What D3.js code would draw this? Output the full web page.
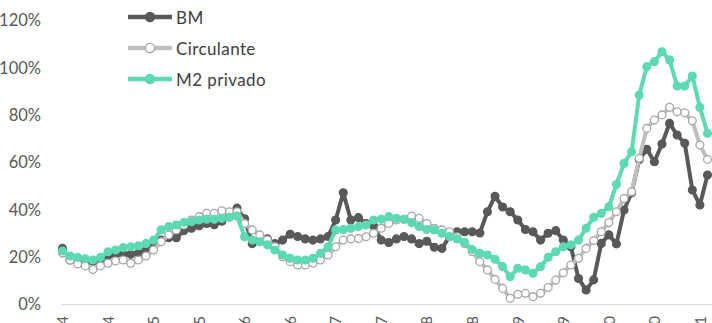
<!DOCTYPE html>
<html>
<head>
<meta charset="utf-8">
<script src="https://cdn.jsdelivr.net/npm/d3@7"></script>
<style>
html,body{margin:0;padding:0;background:#fff;overflow:hidden;}
svg{display:block;}
text{font-family:Lato,"Open Sans",sans-serif;}
</style>
</head>
<body>
<div id="chart"></div>
<script>
const categories = [
 "ene-04","feb-04","mar-04","abr-04","may-04","jun-04","jul-04","ago-04","sep-04","oct-04","nov-04","dic-04",
 "ene-05","feb-05","mar-05","abr-05","may-05","jun-05","jul-05","ago-05","sep-05","oct-05","nov-05","dic-05",
 "ene-06","feb-06","mar-06","abr-06","may-06","jun-06","jul-06","ago-06","sep-06","oct-06","nov-06","dic-06",
 "ene-07","feb-07","mar-07","abr-07","may-07","jun-07","jul-07","ago-07","sep-07","oct-07","nov-07","dic-07",
 "ene-08","feb-08","mar-08","abr-08","may-08","jun-08","jul-08","ago-08","sep-08","oct-08","nov-08","dic-08",
 "ene-09","feb-09","mar-09","abr-09","may-09","jun-09","jul-09","ago-09","sep-09","oct-09","nov-09","dic-09",
 "ene-10","feb-10","mar-10","abr-10","may-10","jun-10","jul-10","ago-10","sep-10","oct-10","nov-10","dic-10",
 "ene-11","feb-11"
];
const tickLabels = ["ene-04","jul-04","ene-05","jul-05","ene-06","jul-06","ene-07","jul-07","ene-08","jul-08","ene-09","jul-09","ene-10","jul-10","ene-11"];
const yTicks = [0, 20, 40, 60, 80, 100, 120];
const seriesNames = ["BM", "Circulante", "M2 privado"];

const bm = [23.5,18.6,18,17.8,18,19,20.5,21,21,21,21.5,22.5,24,27,28,28,31,32,33,34,33.5,35,37,40.5,
 36,25.5,26.5,27.5,25.5,27,29.5,28.5,27.5,27,27.5,28.5,35.5,47,35.5,36.5,34,33,27,26,27.5,28.5,27.5,25.5,
 26.5,24,23.5,28.5,30.5,30.5,30.5,30,39,45.5,41,39,35.5,31.5,30.5,27,29.9,31,27,24.2,10.8,5.9,10.2,25.6,
 29.2,25.4,39.7,47,61,65.4,60.1,67.6,76.3,71.4,67.9,48.2,41.8,54.5];
const circulante = [21.5,18.6,16.9,16.1,14.6,16.1,17.2,18.2,18.6,17.2,18.6,20.3,22.8,26.3,29.2,31.3,33.4,35.5,36.9,38.3,38.3,39.4,39,39,
 34,31.3,29.2,27,24.2,20,17.9,16.5,16.5,17.2,18.6,20.7,24.2,27,27.5,27.7,28.4,29.9,32,34,35.5,35.8,37.2,36.2,
 34,32,31.3,30.5,28.4,25.6,22.1,17.9,14.4,10.4,6.6,2.4,4.1,4.5,3.1,4.5,7,10.1,13.2,16.5,19.3,23.5,26.8,30.5,
 34.4,39,44.6,47.4,61.6,74.2,77.7,79.9,83.1,81.2,80.8,77.4,67.2,61.1];
const m2privado = [22.4,20.3,19.7,19.1,18.6,19.7,22.1,22.8,23.8,24.2,24.6,25.6,27,31.3,32.7,33.4,34.5,34.8,35.5,35.8,35.8,36.2,36.6,37.2,
 28.4,27,26.3,25,22.8,20.7,19.3,18.6,18.6,19.3,21.4,24.2,31.3,31.5,32,32.7,33.4,35.5,35.8,36.9,36.2,35.8,34.4,32.7,
 31.5,31.3,29.9,28.5,27.5,26,23,21.4,20.7,18.9,15.8,11.5,15.1,14.4,13,15.8,19.7,22.1,24.2,25,27,32,36.6,38.3,
 41.1,50.5,59.4,64.3,88.3,100.3,102.4,106.6,103.1,92.1,92.1,96.3,83.1,72.1];

const W = 712, H = 323;
const svg = d3.select("#chart").append("svg").attr("width", W).attr("height", H);

const x = d3.scalePoint().domain(categories).range([62.5, 707.5]);
const y = d3.scaleLinear().domain([0, 120]).range([304, 20]);

// Y axis labels
const yAxis = d3.axisLeft(y).tickValues(yTicks).tickFormat(d => d + "%").tickSize(0).tickPadding(0);
const gy = svg.append("g").attr("transform", "translate(41,0)").call(yAxis);
gy.select(".domain").remove();
gy.selectAll("text").attr("fill", "#595959").style("font-size", "16.5px").style("font-family", "Lato").attr("dy", "0.35em");

// X axis
const xAxis = d3.axisBottom(x).tickValues(tickLabels).tickSize(0).tickPadding(0);
const gx = svg.append("g").attr("transform", "translate(0,304)").call(xAxis);
gx.select(".domain").remove();
gx.append("line").attr("x1", 61).attr("x2", 712).attr("y1", 0.5).attr("y2", 0.5)
  .attr("stroke", "#d9d9d9").attr("stroke-width", 1.2);
gx.selectAll(".tick text")
  .attr("fill", "#595959").style("font-size", "15px").style("font-family", "Lato")
  .attr("text-anchor", "end").attr("transform", "rotate(-90)")
  .attr("x", -12).attr("y", 0).attr("dy", "0.35em");

const series = [
  {name: seriesNames[0], values: bm, line: "#595959", fill: "#595959", stroke: "#595959"},
  {name: seriesNames[1], values: circulante, line: "#bfbfbf", fill: "#ffffff", stroke: "#a6a6a6"},
  {name: seriesNames[2], values: m2privado, line: "#5dd9b3", fill: "#5dd9b3", stroke: "#5dd9b3"}
];

const line = d3.line().x((d, i) => x(categories[i])).y(d => y(d));

series.forEach(s => {
  const g = svg.append("g");
  g.append("path").datum(s.values).attr("d", line)
    .attr("fill", "none").attr("stroke", s.line).attr("stroke-width", 4).attr("stroke-linejoin", "round");
  g.selectAll("circle").data(s.values).join("circle")
    .attr("cx", (d, i) => x(categories[i])).attr("cy", d => y(d))
    .attr("r", 3.9).attr("fill", s.fill).attr("stroke", s.stroke).attr("stroke-width", 1.3);
});

// Legend
const legY = [17, 48, 79];
series.forEach((s, k) => {
  const g = svg.append("g").attr("transform", `translate(0,${legY[k]})`);
  g.append("line").attr("x1", 128).attr("x2", 172).attr("y1", 0).attr("y2", 0)
    .attr("stroke", s.line).attr("stroke-width", 4.5);
  g.append("circle").attr("cx", 150).attr("cy", 0).attr("r", 4.6)
    .attr("fill", s.fill).attr("stroke", s.stroke).attr("stroke-width", 1.3);
  g.append("text").attr("x", 176).attr("y", 1.5).attr("dy", "0.35em")
    .attr("fill", "#404040").style("font-size", "17px").style("letter-spacing", "0.4px").text(s.name);
});
</script>
</body>
</html>
